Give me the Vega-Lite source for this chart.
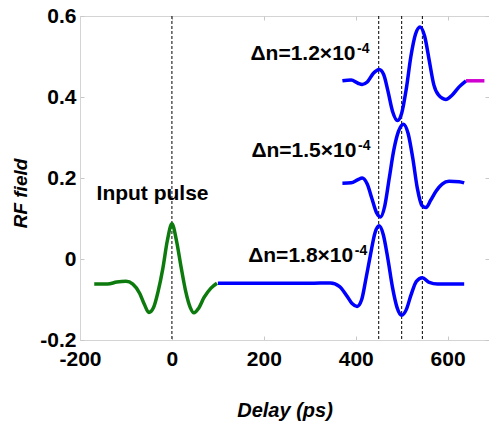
{
  "$schema": "https://vega.github.io/schema/vega-lite/v6.json",
  "autosize": "none",
  "width": 409,
  "height": 324,
  "padding": {"left": 80, "top": 16, "right": 0, "bottom": 85},
  "background": "white",
  "config": {
    "view": {"stroke": "#d4d4d4", "strokeWidth": 1},
    "font": "Liberation Sans",
    "axis": {
      "grid": false,
      "labelFlush": false,
      "domainColor": "#d4d4d4",
      "tickColor": "#c8c8c8",
      "labelFont": "Liberation Sans",
      "labelFontWeight": "bold",
      "labelFontSize": 21,
      "labelColor": "black",
      "titleFont": "Liberation Sans",
      "titleFontWeight": "bold",
      "titleFontStyle": "italic",
      "titleColor": "black"
    }
  },
  "datasets": {
    "curves": [
      {"s": "input", "x": -169, "y": -0.062},
      {"s": "input", "x": -140, "y": -0.062},
      {"s": "input", "x": -120, "y": -0.057},
      {"s": "input", "x": -100, "y": -0.055},
      {"s": "input", "x": -85, "y": -0.062},
      {"s": "input", "x": -70, "y": -0.085},
      {"s": "input", "x": -60, "y": -0.112},
      {"s": "input", "x": -50, "y": -0.132},
      {"s": "input", "x": -40, "y": -0.12},
      {"s": "input", "x": -30, "y": -0.08},
      {"s": "input", "x": -20, "y": -0.025},
      {"s": "input", "x": -10, "y": 0.045},
      {"s": "input", "x": 0, "y": 0.087},
      {"s": "input", "x": 10, "y": 0.045},
      {"s": "input", "x": 20, "y": -0.02},
      {"s": "input", "x": 30, "y": -0.08},
      {"s": "input", "x": 40, "y": -0.12},
      {"s": "input", "x": 48, "y": -0.133},
      {"s": "input", "x": 58, "y": -0.122},
      {"s": "input", "x": 70, "y": -0.095},
      {"s": "input", "x": 85, "y": -0.072},
      {"s": "input", "x": 98, "y": -0.06},
      {"s": "d18", "x": 100, "y": -0.06},
      {"s": "d18", "x": 200, "y": -0.06},
      {"s": "d18", "x": 300, "y": -0.06},
      {"s": "d18", "x": 345, "y": -0.059},
      {"s": "d18", "x": 365, "y": -0.068},
      {"s": "d18", "x": 380, "y": -0.09},
      {"s": "d18", "x": 392, "y": -0.11},
      {"s": "d18", "x": 403, "y": -0.117},
      {"s": "d18", "x": 413, "y": -0.1},
      {"s": "d18", "x": 422, "y": -0.05},
      {"s": "d18", "x": 432, "y": 0.01},
      {"s": "d18", "x": 442, "y": 0.065},
      {"s": "d18", "x": 451, "y": 0.082},
      {"s": "d18", "x": 460, "y": 0.06},
      {"s": "d18", "x": 470, "y": 0.0},
      {"s": "d18", "x": 480, "y": -0.07},
      {"s": "d18", "x": 490, "y": -0.12},
      {"s": "d18", "x": 500, "y": -0.139},
      {"s": "d18", "x": 510, "y": -0.125},
      {"s": "d18", "x": 520, "y": -0.09},
      {"s": "d18", "x": 532, "y": -0.055},
      {"s": "d18", "x": 545, "y": -0.046},
      {"s": "d18", "x": 560, "y": -0.058},
      {"s": "d18", "x": 578, "y": -0.062},
      {"s": "d18", "x": 636, "y": -0.062},
      {"s": "d15", "x": 371, "y": 0.187},
      {"s": "d15", "x": 390, "y": 0.188},
      {"s": "d15", "x": 405, "y": 0.196},
      {"s": "d15", "x": 414, "y": 0.2},
      {"s": "d15", "x": 425, "y": 0.185},
      {"s": "d15", "x": 435, "y": 0.15},
      {"s": "d15", "x": 445, "y": 0.115},
      {"s": "d15", "x": 454, "y": 0.104},
      {"s": "d15", "x": 463, "y": 0.13},
      {"s": "d15", "x": 473, "y": 0.2},
      {"s": "d15", "x": 483, "y": 0.27},
      {"s": "d15", "x": 493, "y": 0.315},
      {"s": "d15", "x": 504, "y": 0.333},
      {"s": "d15", "x": 514, "y": 0.31},
      {"s": "d15", "x": 524, "y": 0.25},
      {"s": "d15", "x": 534, "y": 0.175},
      {"s": "d15", "x": 544, "y": 0.132},
      {"s": "d15", "x": 553, "y": 0.127},
      {"s": "d15", "x": 563, "y": 0.145},
      {"s": "d15", "x": 575, "y": 0.168},
      {"s": "d15", "x": 588, "y": 0.185},
      {"s": "d15", "x": 603, "y": 0.192},
      {"s": "d15", "x": 625, "y": 0.191},
      {"s": "d15", "x": 636, "y": 0.188},
      {"s": "d12", "x": 371, "y": 0.44},
      {"s": "d12", "x": 390, "y": 0.442},
      {"s": "d12", "x": 405, "y": 0.434},
      {"s": "d12", "x": 414, "y": 0.431},
      {"s": "d12", "x": 425, "y": 0.437},
      {"s": "d12", "x": 438, "y": 0.458},
      {"s": "d12", "x": 451, "y": 0.468},
      {"s": "d12", "x": 461, "y": 0.455},
      {"s": "d12", "x": 470, "y": 0.415},
      {"s": "d12", "x": 480, "y": 0.365},
      {"s": "d12", "x": 491, "y": 0.342},
      {"s": "d12", "x": 500, "y": 0.36},
      {"s": "d12", "x": 510, "y": 0.42},
      {"s": "d12", "x": 520, "y": 0.5},
      {"s": "d12", "x": 530, "y": 0.555},
      {"s": "d12", "x": 540, "y": 0.573},
      {"s": "d12", "x": 550, "y": 0.55},
      {"s": "d12", "x": 560, "y": 0.49},
      {"s": "d12", "x": 570, "y": 0.43},
      {"s": "d12", "x": 580, "y": 0.405},
      {"s": "d12", "x": 596, "y": 0.394},
      {"s": "d12", "x": 610, "y": 0.405},
      {"s": "d12", "x": 625, "y": 0.425},
      {"s": "d12", "x": 640, "y": 0.44},
      {"s": "mag", "x": 640, "y": 0.44},
      {"s": "mag", "x": 680, "y": 0.44}
    ]
  },
  "resolve": {"axis": {"x": "independent", "y": "independent"}},
  "layer": [
    {
      "data": {"values": [{"x": 0}, {"x": 450}, {"x": 500}, {"x": 545}]},
      "mark": {"type": "rule", "color": "black", "strokeWidth": 1, "strokeDash": [3, 2]},
      "encoding": {
        "x": {"field": "x", "type": "quantitative", "scale": {"domain": [-200, 690], "nice": false}, "axis": null}
      }
    },
    {
      "data": {"name": "curves"},
      "mark": {"type": "line", "strokeWidth": 3.5, "interpolate": "monotone", "clip": true},
      "encoding": {
        "x": {
          "field": "x", "type": "quantitative",
          "scale": {"domain": [-200, 690], "nice": false},
          "axis": {"title": "Delay (ps)", "values": [-200, 0, 200, 400, 600], "labelExpr": "replace(datum.label, '−', '-')", "tickSize": -4, "labelPadding": 12, "titleFontSize": 20, "titleY": 70, "titleBaseline": "middle", "titleX": 204.5}
        },
        "y": {
          "field": "y", "type": "quantitative",
          "scale": {"domain": [-0.2, 0.6], "nice": false},
          "axis": {"title": "RF field", "values": [-0.2, 0, 0.2, 0.4, 0.6], "format": "~g", "labelExpr": "replace(datum.label, '−', '-')", "tickSize": -4, "labelPadding": 8, "titleFontSize": 19, "titleX": -60, "titleY": 177, "titleBaseline": "middle"}
        },
        "color": {
          "field": "s", "type": "nominal",
          "scale": {"domain": ["input", "d18", "d15", "d12", "mag"], "range": ["#0d7a0d", "#0000ff", "#0000ff", "#0000ff", "#d000d0"]},
          "legend": null
        },
        "detail": {"field": "s"},
        "order": {"field": "x"}
      }
    },
    {
      "data": {"values": [
        {"label": "Input pulse", "x": -164, "y": 0.16, "size": "big"},
        {"label": "Δn=1.8×10", "x": 166, "y": 0.007, "size": "big"},
        {"label": "Δn=1.5×10", "x": 173, "y": 0.267, "size": "big"},
        {"label": "Δn=1.2×10", "x": 171, "y": 0.505, "size": "big"},
        {"label": "-4", "x": 398, "y": 0.02, "size": "small"},
        {"label": "-4", "x": 405, "y": 0.28, "size": "small"},
        {"label": "-4", "x": 403, "y": 0.518, "size": "small"}
      ]},
      "mark": {"type": "text", "align": "left", "baseline": "middle", "fontWeight": "bold", "font": "Liberation Sans", "color": "black"},
      "encoding": {
        "text": {"field": "label"},
        "size": {"field": "size", "type": "nominal", "scale": {"domain": ["big", "small"], "range": [21, 14]}, "legend": null},
        "x": {"field": "x", "type": "quantitative", "scale": {"domain": [-200, 690], "nice": false},
              "axis": {"orient": "top", "values": [-200, 0, 200, 400, 600], "labels": false, "title": null, "tickSize": -4, "domain": false}},
        "y": {"field": "y", "type": "quantitative", "scale": {"domain": [-0.2, 0.6], "nice": false},
              "axis": {"orient": "right", "values": [-0.2, 0, 0.2, 0.4, 0.6], "labels": false, "title": null, "tickSize": -4, "domain": false}}
      }
    }
  ]
}
